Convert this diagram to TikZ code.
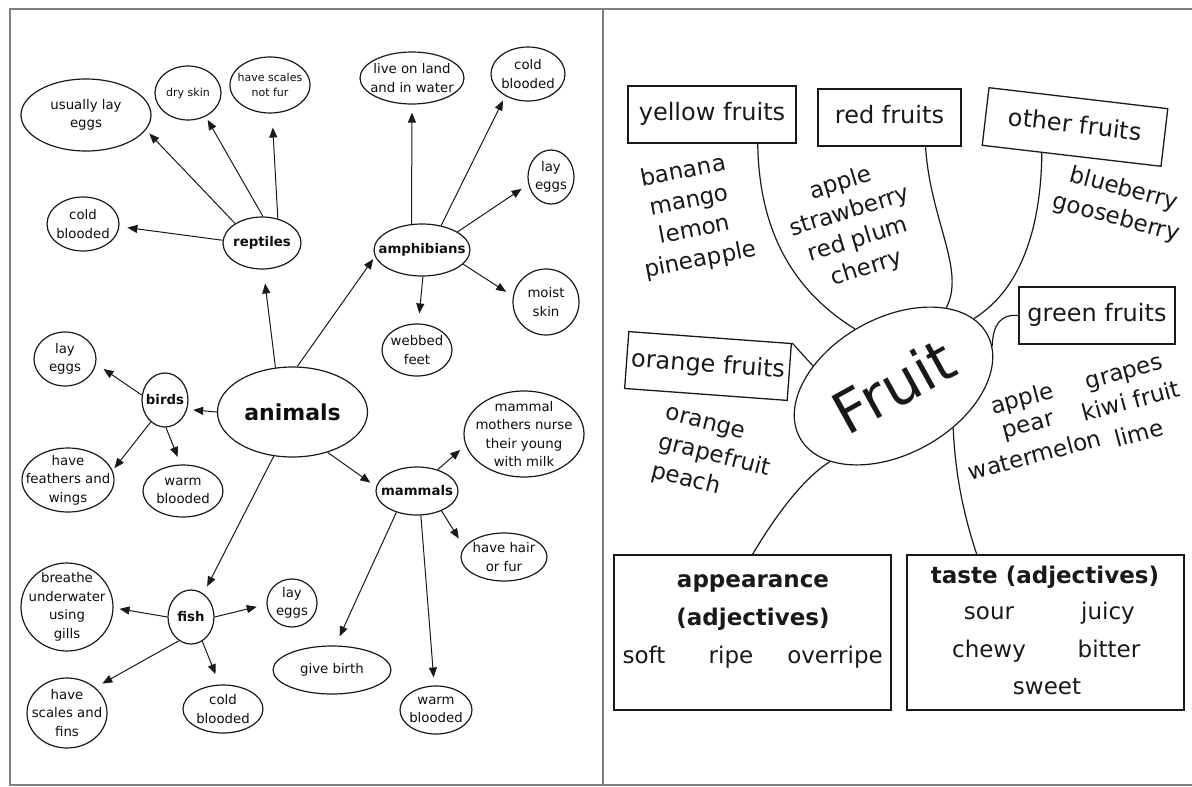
\documentclass[tikz,border=0pt]{standalone}
\usepackage{fontspec}
\setmainfont{DejaVu Sans}
\usetikzlibrary{shapes.geometric,arrows.meta,calc}
\newcommand\fsz[2]{\fontsize{#1}{#2}\selectfont}
\newcommand\ellnode[6]{\node[ell,minimum width=#4pt,minimum height=#5pt,label={[#6]center:{#3}}] (#1) at (#2) {};}
\begin{document}
\begin{tikzpicture}[x=1pt,y=-1pt,
  frame/.style={draw=black!50,line width=2.5pt},
  ell/.style={ellipse,draw=black!90,line width=1.2pt,inner sep=0pt},
  lab/.style={align=center,font=\fsz{13.3}{18.5},inner sep=0pt,text=black!95},
  labs/.style={align=center,font=\fsz{11}{15},inner sep=0pt,text=black!95},
  labb/.style={align=center,font=\fsz{13.3}{18.5}\bfseries,inner sep=0pt,text=black!95},
  labbig/.style={align=center,font=\fsz{22}{26}\bfseries,inner sep=0pt,text=black!95},
  arr/.style={-{Triangle[length=10pt,width=8pt]},line width=1pt,draw=black!90,shorten >=#1},
  arr/.default=7pt,
  box/.style={draw=black!90,line width=1.3pt,minimum height=57pt,inner sep=0pt,font=\fsz{24}{28},text height=17pt,text depth=5pt,text=black!90},
  bigbox/.style={draw=black!90,line width=1.3pt,inner sep=0pt,minimum width=277pt,minimum height=155pt},
  lst/.style={font=\fsz{23}{30},align=center,inner sep=0pt,text=black!90},
  wrd/.style={font=\fsz{23}{30},inner sep=0pt,anchor=base,text=black!90},
  wrdb/.style={font=\fsz{23}{30}\bfseries,inner sep=0pt,anchor=base,text=black!90},
  con/.style={line width=1.2pt,draw=black!90}
]
\useasboundingbox (0,0) rectangle (1192,787);
\draw[frame] (1196,9) -- (10,9) -- (10,785) -- (1196,785);
\draw[frame] (603,9) -- (603,785);

% ---------- left panel: animals ----------
\ellnode{animals}{292.5,412}{animals}{150}{90}{labbig}
\ellnode{rept}{262,243}{reptiles}{78}{52}{labb}
\ellnode{amph}{422,250}{amphibians}{96}{52}{labb}
\ellnode{birds}{165,400}{birds}{46}{54}{labb}
\ellnode{mammals}{417,491}{mammals}{82}{48}{labb}
\ellnode{fish}{191,617}{fish}{46}{54}{labb}

\ellnode{rle}{86,115}{usually lay\\eggs}{130}{72}{lab}
\ellnode{rdry}{188,93}{dry skin}{66}{54}{labs}
\ellnode{rsc}{270,85}{have scales\\not fur}{80}{56}{labs}
\ellnode{rcb}{83,224}{cold\\blooded}{72}{54}{lab}

\ellnode{alive}{412,78}{live on land\\and in water}{104}{52}{lab}
\ellnode{acb}{528,74}{cold\\blooded}{74}{54}{lab}
\ellnode{ale}{551,177}{lay\\eggs}{46}{54}{lab}
\ellnode{amoist}{546,302}{moist\\skin}{66}{66}{lab}
\ellnode{aweb}{417,350}{webbed\\feet}{70}{52}{lab}

\ellnode{ble}{65,359}{lay\\eggs}{62}{54}{lab}
\ellnode{bfw}{68,480}{have\\feathers and\\wings}{92}{64}{lab}
\ellnode{bwb}{183,491}{warm\\blooded}{80}{52}{lab}

\ellnode{mmilk}{524,434}{mammal\\mothers nurse\\their young\\with milk}{120}{86}{lab}
\ellnode{mhair}{504,557}{have hair\\or fur}{86}{48}{lab}
\ellnode{mbirth}{332,670}{give birth}{118}{48}{lab}
\ellnode{mwb}{436,710}{warm\\blooded}{72}{48}{lab}

\ellnode{fbr}{67,607}{breathe\\underwater\\using\\gills}{92}{88}{lab}
\ellnode{fle}{292,603}{lay\\eggs}{50}{48}{lab}
\ellnode{fsc}{67,713}{have\\scales and\\fins}{80}{70}{lab}
\ellnode{fcb}{223,709}{cold\\blooded}{80}{48}{lab}

\draw[arr=5pt] (rept.144) -- (rle.-14);
\draw[arr=4pt] (rept.88) -- (rdry.-53);
\draw[arr=14pt] (rept.57) -- (rsc.-86);
\draw[arr=8pt] (rept.176) -- (rcb.-4);
\draw[arr=8pt] (amph.112) -- (alive.-90);
\draw[arr=5pt] (amph.52) -- (acb.-136);
\draw[arr=8pt] (amph.27) -- (ale.-162);
\draw[arr=8pt] (amph.-19) -- (amoist.170);
\draw[arr=10pt] (amph.-88) -- (aweb.87);
\draw[arr=14pt] (animals.111) -- (rept.-87);
\draw[arr=3pt] (animals.84) -- (amph.-172);
\draw[arr=6pt] (animals.180) -- (birds.-23);
\draw[arr=7pt] (animals.-49) -- (mammals.174);
\draw[arr=8pt] (animals.-113) -- (fish.62);
\draw[arr=9pt] (birds.168) -- (ble.-9);
\draw[arr=3pt] (birds.-123) -- (bfw.12);
\draw[arr=8pt] (birds.-88) -- (bwb.95);
\draw[arr=7pt] (mammals.46) -- (mmilk.-169);
\draw[arr=10pt] (mammals.-39) -- (mhair.166);
\draw[arr=10pt] (mammals.-134) -- (mbirth.82);
\draw[arr=8pt] (mammals.-81) -- (mwb.94);
\draw[arr=6pt] (fish.180) -- (fbr.-1);
\draw[arr=10pt] (fish.0) -- (fle.-177);
\draw[arr=8pt] (fish.-117) -- (fsc.42);
\draw[arr=11pt] (fish.-65) -- (fcb.98);

% ---------- right panel: fruit ----------
\node[ellipse,draw=black!90,line width=1.2pt,minimum width=214pt,minimum height=136pt,inner sep=0pt,rotate=29,font=\fsz{58}{60},text=black!90] (fruit) at (893.5,386) {Fruit};

\node[box,minimum width=168pt] (yellow) at (712,114.5) {yellow fruits};
\node[box,minimum width=143pt] (red) at (889.5,117.5) {red fruits};
\node[box,minimum width=180pt,minimum height=58pt,rotate=-6.7] (other) at (1075,127) {other fruits};
\node[box,minimum width=156pt] (green) at (1097,315.5) {green fruits};
\node[box,minimum width=163pt,rotate=-4.2] (orange) at (708,366) {orange fruits};

\node[bigbox] (appear) at (752.5,632.5) {};
\node[bigbox] (taste) at (1045.5,632.5) {};

\node[lst,rotate=11] (ylist) at (692,216) {banana\\mango\\lemon\\pineapple};
\node[lst,rotate=17,font=\fsz{23}{29.5}] (rlist) at (854,226) {apple\\strawberry\\red plum\\cherry};
\node[lst,rotate=-15] (olist) at (1120,204) {blueberry\\gooseberry};
\node[lst,rotate=-14,align=left] (orlist) at (714,458) {orange\\grapefruit\\peach};

\node[wrd,rotate=15] (g1) at (1024,406) {apple};
\node[wrd,rotate=15] (g2) at (1126,379) {grapes};
\node[wrd,rotate=15] (g3) at (1030,432) {pear};
\node[wrd,rotate=15] (g4) at (1133,409) {kiwi fruit};
\node[wrd,rotate=15] (g5) at (1037,463) {watermelon};
\node[wrd,rotate=15] (g6) at (1141,441) {lime};

\node[wrdb] (ap1) at (753,587) {appearance};
\node[wrdb] (ap2) at (753,625) {(adjectives)};
\node[wrd] (ap3) at (644,663) {soft};
\node[wrd] (ap4) at (731,663) {ripe};
\node[wrd] (ap5) at (835,663) {overripe};

\node[wrdb] (ta1) at (1045,583) {taste (adjectives)};
\node[wrd] (ta2) at (989,619) {sour};
\node[wrd] (ta3) at (1108,619) {juicy};
\node[wrd] (ta4) at (989,657) {chewy};
\node[wrd] (ta5) at (1109,657) {bitter};
\node[wrd] (ta6) at (1047,694) {sweet};

\draw[con] ($(yellow.south west)!0.77!(yellow.south east)$) .. controls (759,230) and (792,290) .. (fruit.95);
\draw[con] ($(red.south west)!0.75!(red.south east)$) .. controls (930,220) and (966,270) .. (fruit.27);
\draw[con] ($(other.south west)!0.335!(other.south east)$) .. controls (1041,230) and (1020,290) .. (fruit.11);
\draw[con] (green.west) .. controls (1000,314) and (993,325) .. (fruit.-7);
\draw[con] (orange.north east) -- (fruit.137.6);
\draw[con] (appear.north) .. controls (770,525) and (800,480) .. (fruit.-159);
\draw[con] ($(taste.north west)!0.253!(taste.north east)$) .. controls (962,510) and (955,470) .. (fruit.-64.6);
\end{tikzpicture}
\end{document}
